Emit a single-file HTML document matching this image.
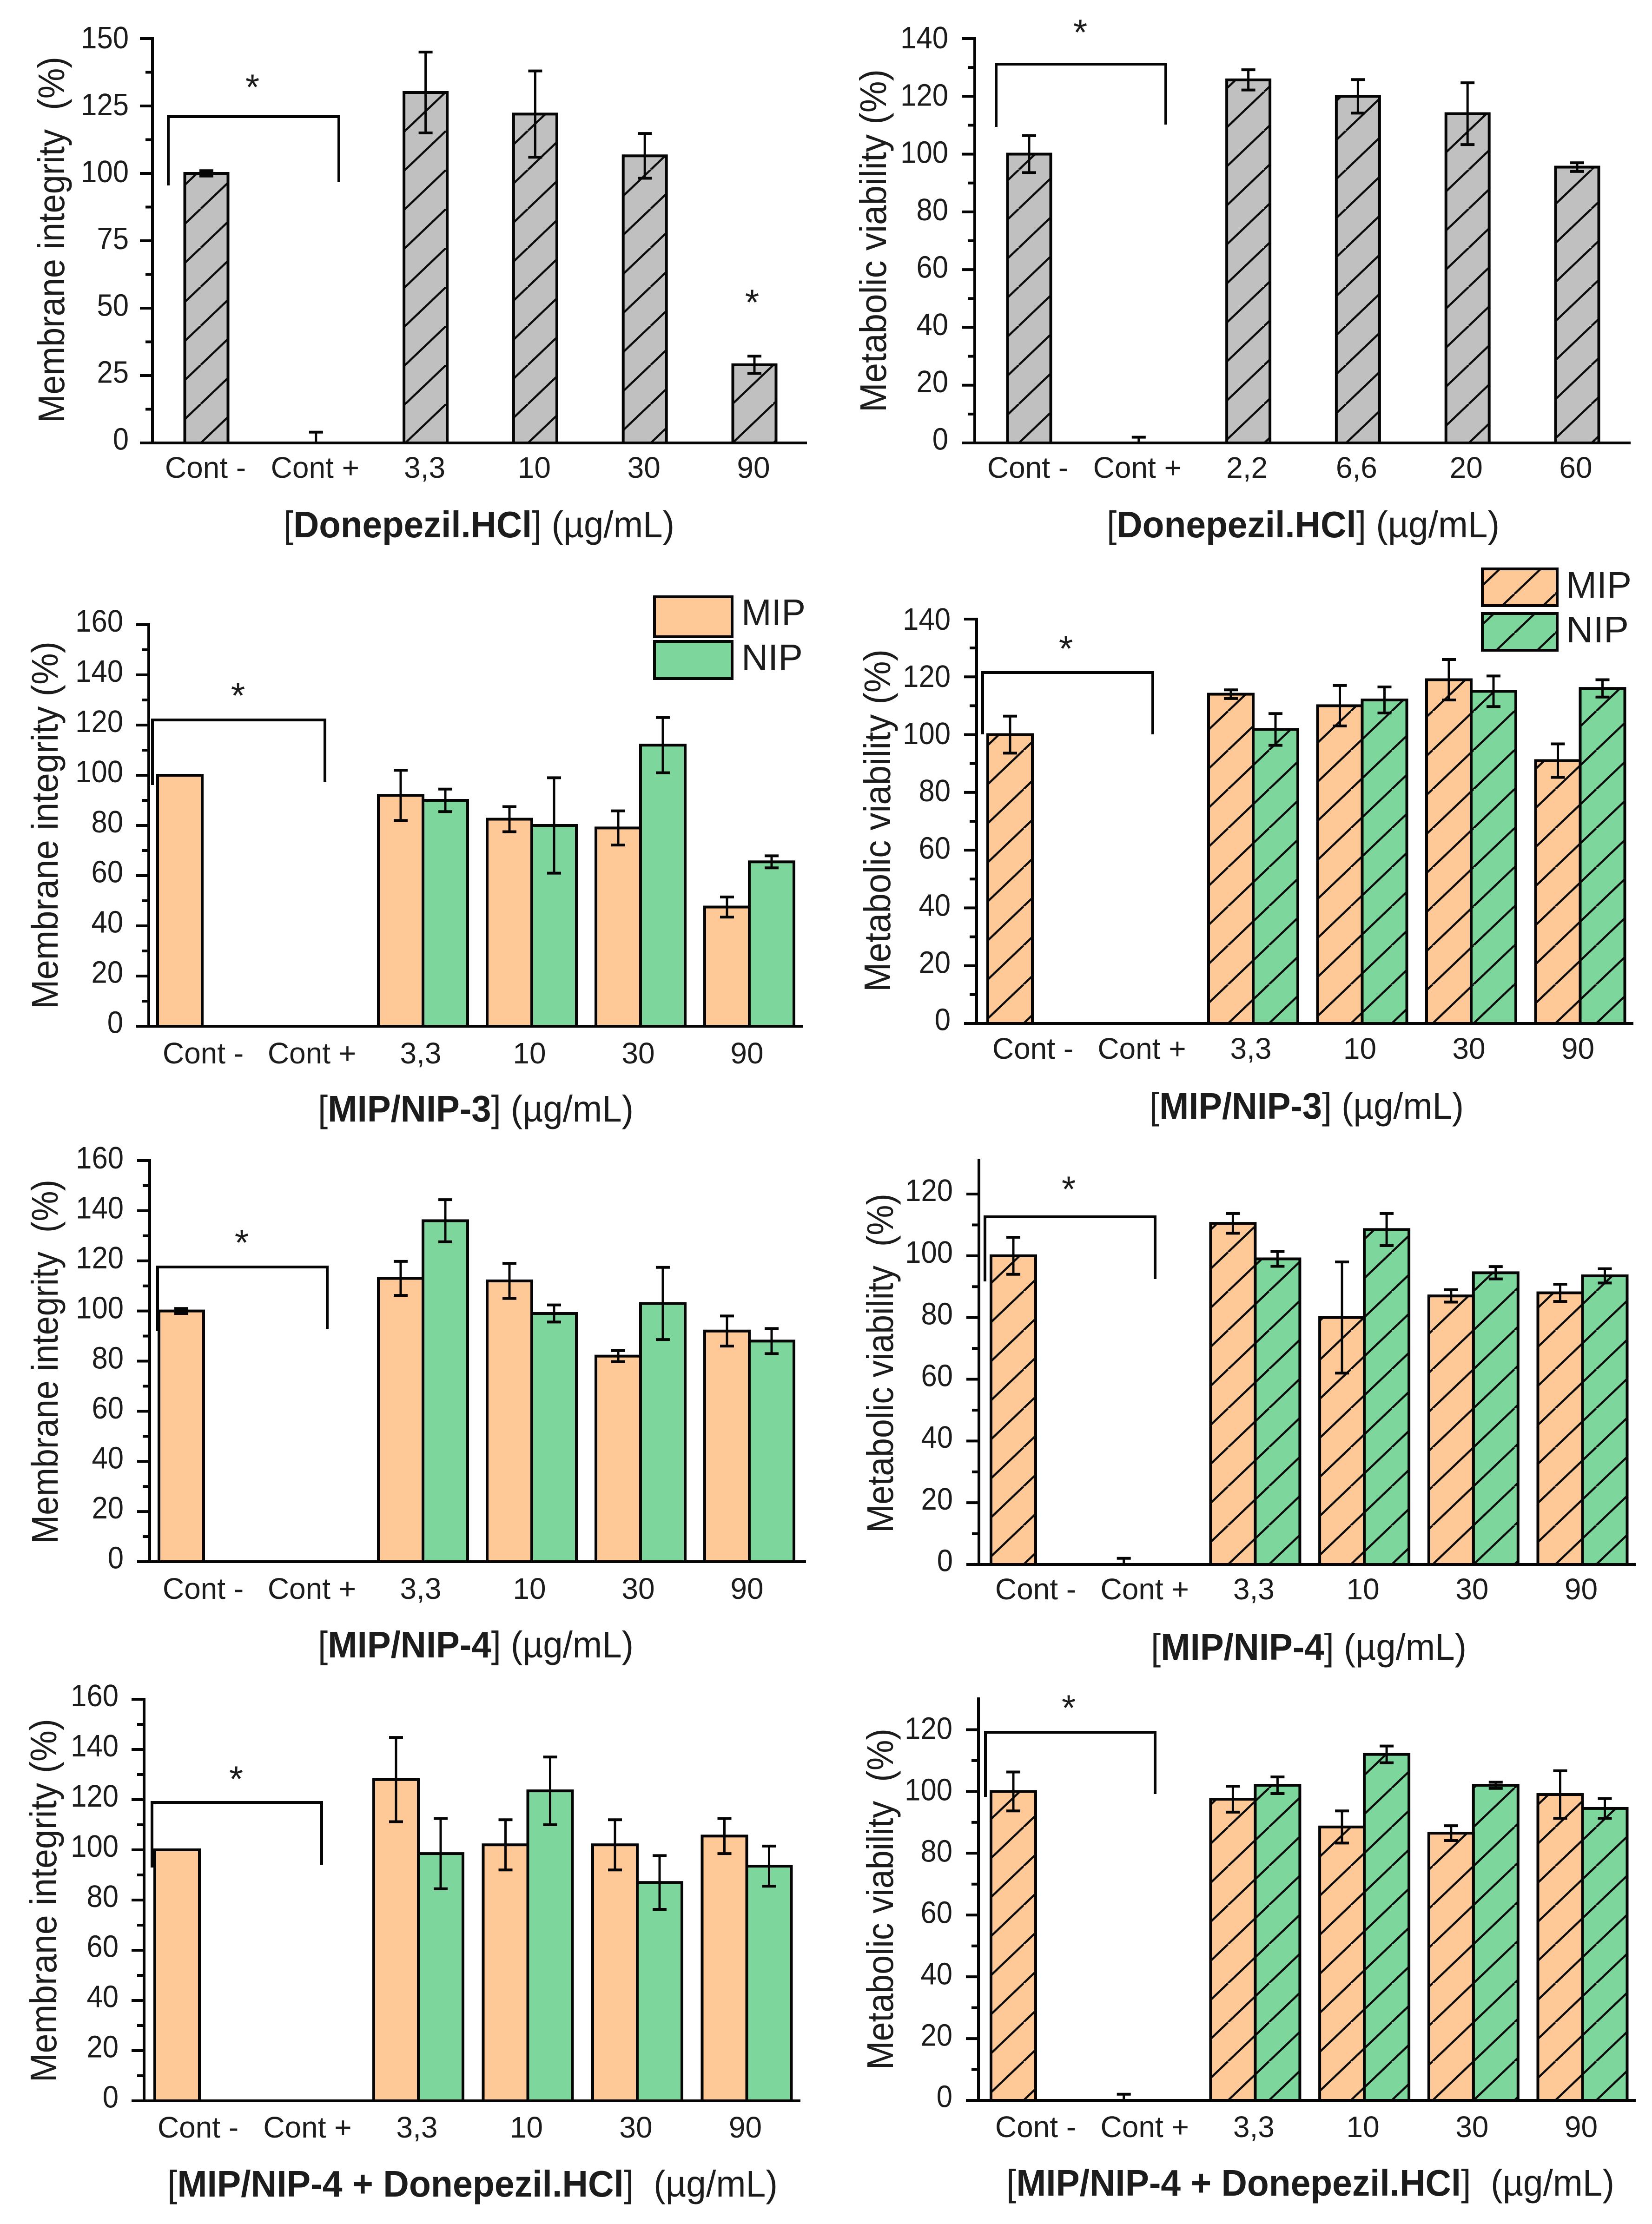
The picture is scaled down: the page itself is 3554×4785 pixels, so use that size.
<!DOCTYPE html>
<html lang="en">
<head>
<meta charset="utf-8">
<title>Membrane integrity and metabolic viability bar charts</title>
<style>
html,body{margin:0;padding:0;background:#fff;}
svg{display:block;}
text{font-family:"Liberation Sans",Arial,sans-serif;fill:#1c1c1c;white-space:pre;}
</style>
</head>
<body>
<svg id="figure" xmlns="http://www.w3.org/2000/svg" width="3554" height="4785" viewBox="0 0 3554 4785">
<rect x="0" y="0" width="3554" height="4785" fill="#ffffff"/>
</svg>
<script>
// ---------- chart data ----------
const categoriesA = ["Cont -", "Cont +", "3,3", "10", "30", "90"];
const categoriesB = ["Cont -", "Cont +", "2,2", "6,6", "20", "60"];
const categoriesMip = ["Cont -", "Cont +", "3,3", "10", "30", "90"];

const ticksA = [0, 25, 50, 75, 100, 125, 150];
const ticksB = [0, 20, 40, 60, 80, 100, 120, 140];
const ticksMembrane = [0, 20, 40, 60, 80, 100, 120, 140, 160];
const ticksViability = [0, 20, 40, 60, 80, 100, 120];

const valuesA = [100, 0, 130, 122, 106.5, 29];
const errorsA = [1, 4, 15, 16, 8.3, 3.2];

const valuesB = [100, 0, 125.7, 120, 114, 95.5];
const errorsB = [6.4, 2, 3.5, 5.8, 10.7, 1.5];

const mipC = [100, null, 92, 82.5, 79, 47.5];
const mipErrC = [0, null, 10, 5, 6.8, 4];
const nipC = [null, null, 90, 80, 112, 65.5];
const nipErrC = [null, null, 4.5, 19, 11, 2.4];

const mipD = [100, null, 114, 110, 119, 91];
const mipErrD = [6.4, null, 1.5, 7, 7, 5.8];
const nipD = [null, null, 101.8, 112, 115, 116];
const nipErrD = [null, null, 5.5, 4.5, 5.3, 3];

const mipE = [100, null, 113, 112, 82, 92];
const mipErrE = [1, null, 6.8, 7, 2.2, 6];
const nipE = [null, null, 136, 99, 103, 88];
const nipErrE = [null, null, 8.4, 3.4, 14.4, 5];

const mipF = [100, 0, 110.5, 80, 87, 88];
const mipErrF = [6, 2, 3.2, 18, 2, 2.8];
const nipF = [null, null, 99, 108.5, 94.5, 93.5];
const nipErrF = [null, null, 2.4, 5.2, 2, 2.3];

const mipG = [100, null, 128, 102, 102, 105.5];
const mipErrG = [0, null, 16.8, 10, 10, 7];
const nipG = [null, null, 98.5, 123.5, 87, 93.5];
const nipErrG = [null, null, 14, 13.5, 10.7, 8];

const mipH = [100, 0, 97.5, 88.5, 86.5, 99];
const mipErrH = [6.3, 2, 4.2, 5.2, 2.4, 7.7];
const nipH = [null, null, 102, 112, 102, 94.5];
const nipErrH = [null, null, 2.7, 2.7, 1, 3.2];

// ---------- layout (axis calibration only) ----------
const SVGNS = "http://www.w3.org/2000/svg";
const root = document.getElementById("figure");
const MIP = "#ffc897", NIP = "#7dd69b", GREY = "#c0c0c0", INK = "#050505";

const panels = [
 {id:"a", kind:"single", hatch:true, hx:432, cats:categoriesA, ticks:ticksA, v1:valuesA, e1:errorsA, ax:328, xEnd:1736, y0:953, yTop:83, yMax:150, x0:444, step:235.8, barW:93, firstShift:0, lblShift:-2, lblDy:75, tickDx:-51, tickDyTop:21,
  yTitle:"Membrane integrity  (%)", yT:{x:138,a:910,b:122}, xBold:"Donepezil.HCl", xSuffix:"] (µg/mL)", xT:{a:610,b:1451,y:1156},
  br:{l:362,r:729,y:251,lb:399,rb:392}, stars:[[543,178],[1618,641]]},
 {id:"b", kind:"single", hatch:true, hx:2192, cats:categoriesB, ticks:ticksB, v1:valuesB, e1:errorsB, ax:2097, xEnd:3508, y0:953, yTop:83, yMax:140, x0:2214, step:235.8, barW:93, firstShift:0, lblShift:-3, lblDy:75, tickDx:-57, tickDyTop:21,
  yTitle:"Metabolic viability (%)", yT:{x:1906,a:887,b:149}, xBold:"Donepezil.HCl", xSuffix:"] (µg/mL)", xT:{a:2381,b:3226,y:1156},
  br:{l:2143,r:2508,y:138,lb:273,rb:268}, stars:[[2324,60]]},
 {id:"c", kind:"dual", hatch:false, hx:0, cats:categoriesMip, ticks:ticksMembrane, v1:mipC, e1:mipErrC, v2:nipC, e2:nipErrC, ax:320, xEnd:1728, y0:2208, yTop:1344, yMax:160, x0:442, step:234, barW:96, firstShift:-7, lblShift:-5, lblDy:80, tickDx:-55, tickDyTop:15,
  yTitle:"Membrane integrity (%)", yT:{x:124,a:2171,b:1380}, xBold:"MIP/NIP-3", xSuffix:"] (µg/mL)", xT:{a:684,b:1363,y:2413},
  br:{l:328,r:699,y:1549,lb:1689,rb:1682}, stars:[[512,1487]],
  legend:{x:1408,w:167,y1:1284,h1:86,y2:1380,h2:80,tx:1595,tw:138,b1:1345,b2:1442}},
 {id:"d", kind:"dual", hatch:true, hx:2114, cats:categoriesMip, ticks:ticksB, v1:mipD, e1:mipErrD, v2:nipD, e2:nipErrD, ax:2101, xEnd:3514, y0:2202, yTop:1332, yMax:140, x0:2227, step:234.5, barW:96, firstShift:-6, lblShift:-5, lblDy:76, tickDx:-56, tickDyTop:23,
  yTitle:"Metabolic viability (%)", yT:{x:1915,a:2134,b:1397}, xBold:"MIP/NIP-3", xSuffix:"] (µg/mL)", xT:{a:2473,b:3149,y:2407},
  br:{l:2114,r:2480,y:1447,lb:1580,rb:1580}, stars:[[2293,1386]],
  legend:{x:3189,w:161,y1:1224,h1:79,y2:1320,h2:79,tx:3369,tw:141,b1:1286,b2:1382}},
 {id:"e", kind:"dual", hatch:false, hx:0, cats:categoriesMip, ticks:ticksMembrane, v1:mipE, e1:mipErrE, v2:nipE, e2:nipErrE, ax:322, xEnd:1734, y0:3360, yTop:2497, yMax:160, x0:442, step:234, barW:96, firstShift:-4, lblShift:-5, lblDy:80, tickDx:-56, tickDyTop:17,
  yTitle:"Membrane integrity  (%)", yT:{x:124,a:3321,b:2538}, xBold:"MIP/NIP-4", xSuffix:"] (µg/mL)", xT:{a:684,b:1363,y:3566},
  br:{l:339,r:704,y:2726,lb:2864,rb:2859}, stars:[[520,2664]]},
 {id:"f", kind:"dual", hatch:true, hx:2114, cats:categoriesMip, ticks:ticksViability, v1:mipF, e1:mipErrF, v2:nipF, e2:nipErrF, ax:2106, xEnd:3519, y0:3366, yTop:2496, yMax:131, x0:2231, step:234.7, barW:96, firstShift:-3, lblShift:-3, lblDy:75, tickDx:-56, tickDyTop:15,
  yTitle:"Metabolic viability  (%)", yT:{x:1921,a:3298,b:2568}, xBold:"MIP/NIP-4", xSuffix:"] (µg/mL)", xT:{a:2476,b:3155,y:3571},
  br:{l:2119,r:2485,y:2618,lb:2757,rb:2752}, stars:[[2299,2549]]},
 {id:"g", kind:"dual", hatch:false, hx:0, cats:categoriesMip, ticks:ticksMembrane, v1:mipG, e1:mipErrG, v2:nipG, e2:nipErrG, ax:310, xEnd:1722, y0:4520, yTop:3656, yMax:160, x0:429, step:235.5, barW:96, firstShift:0, lblShift:-3, lblDy:79, tickDx:-55, tickDyTop:15,
  yTitle:"Membrane integrity (%)", yT:{x:121,a:4480,b:3698}, xBold:"MIP/NIP-4 + Donepezil.HCl", xSuffix:"]  (µg/mL)", xT:{a:360,b:1673,y:4726},
  br:{l:327,r:692,y:3878,lb:4018,rb:4012}, stars:[[508,3818]]},
 {id:"h", kind:"dual", hatch:true, hx:2114, cats:categoriesMip, ticks:ticksViability, v1:mipH, e1:mipErrH, v2:nipH, e2:nipErrH, ax:2105, xEnd:3519, y0:4519, yTop:3655, yMax:130, x0:2231, step:234.7, barW:96, firstShift:-3, lblShift:-3, lblDy:79, tickDx:-56, tickDyTop:20,
  yTitle:"Metabolic viability  (%)", yT:{x:1921,a:4453,b:3719}, xBold:"MIP/NIP-4 + Donepezil.HCl", xSuffix:"]  (µg/mL)", xT:{a:2165,b:3473,y:4724},
  br:{l:2120,r:2485,y:3727,lb:3866,rb:3860}, stars:[[2299,3665]]}
];

// ---------- helpers ----------
function add(parent, tag, name, attrs) {
  const el = document.createElementNS(SVGNS, tag);
  
  
  for (const k in attrs) el.setAttribute(k, attrs[k]);
  parent.appendChild(el);
  return el;
}
function line(parent, name, x1, y1, x2, y2, w) {
  return add(parent, "line", name, {x1:x1, y1:y1, x2:x2, y2:y2, stroke:INK, "stroke-width":w});
}
function label(parent, name, str, x, y, size, opts) {
  opts = opts || {};
  const attrs = {"font-size":size, "text-anchor":opts.anchor || "start"};
  if (opts.sx) {
    attrs.transform = "translate(" + x + " " + y + ") scale(" + opts.sx + " 1)";
    attrs.x = 0; attrs.y = 0;
  } else { attrs.x = x; attrs.y = y; }
  if (opts.len) { attrs.textLength = opts.len; attrs.lengthAdjust = "spacingAndGlyphs"; }
  const el = add(parent, "text", name, attrs);
  el.textContent = str;
  return el;
}
function makeHatch(defs, id, color, ox, oy) {
  const W = 88, H = 84;
  const p = add(defs, "pattern", "hatch-pattern", {id:id, patternUnits:"userSpaceOnUse", x:ox, y:oy, width:W, height:H});
  add(p, "rect", "hatch-fill", {x:0, y:0, width:W, height:H, fill:color});
  [-W, 0, W].forEach(function (dx) {
    add(p, "line", "hatch-stroke", {x1:dx, y1:H, x2:dx + W, y2:0, stroke:"#0c0c0c", "stroke-width":4.5});
  });
}

// ---------- draw ----------
panels.forEach(function (P) {
  const g = add(root, "g", "chart-panel-" + P.id, {});
  const defs = add(g, "defs", "hatch-defs", {});
  const y = function (v) { return P.y0 - (v / P.yMax) * (P.y0 - P.yTop); };
  const x = function (i) { return P.x0 + i * P.step; };
  let fill1, fill2;
  if (P.hatch) {
    const c1 = P.kind === "single" ? GREY : MIP;
    makeHatch(defs, "h1" + P.id, c1, P.hx, P.y0);
    makeHatch(defs, "h2" + P.id, NIP, P.hx, P.y0);
    fill1 = "url(#h1" + P.id + ")";
    fill2 = "url(#h2" + P.id + ")";
  } else {
    fill1 = MIP;
    fill2 = NIP;
  }

  const drawBar = function (name, cx, w, v, fill) {
    add(g, "rect", name, {x:cx - w / 2, y:y(v), width:w, height:P.y0 - y(v), fill:fill, stroke:INK, "stroke-width":6});
  };
  const drawErr = function (name, cx, v, e) {
    if (!e) return;
    const top = y(v + e), low = v - e > 0 ? y(v - e) : P.y0;
    line(g, name + "-stem", cx, top, cx, low, 5);
    line(g, name + "-cap-top", cx - 15, top, cx + 15, top, 6);
    if (v - e > 0) line(g, name + "-cap-bottom", cx - 15, low, cx + 15, low, 6);
  };

  P.cats.forEach(function (cat, i) {
    const slug = String(cat).replace(/[^a-z0-9]+/gi, "-").toLowerCase();
    if (P.kind === "single") {
      if (P.v1[i] !== null) {
        if (P.v1[i] > 0) drawBar("bar-" + slug, x(i), P.barW, P.v1[i], fill1);
        drawErr("error-bar-" + slug, x(i), P.v1[i], P.e1[i]);
      }
    } else {
      const shift = i === 0 ? P.firstShift : 0;
      if (P.v2[i] !== null) drawBar("nip-bar-" + slug, x(i) + P.barW / 2, P.barW, P.v2[i], fill2);
      if (P.v1[i] !== null && P.v1[i] > 0) drawBar("mip-bar-" + slug, x(i) - P.barW / 2 + shift, P.barW, P.v1[i], fill1);
      if (P.v1[i] !== null) drawErr("mip-error-bar-" + slug, x(i) - P.barW / 2 + shift, P.v1[i], P.e1[i]);
      if (P.v2[i] !== null) drawErr("nip-error-bar-" + slug, x(i) + P.barW / 2, P.v2[i], P.e2[i]);
    }
    label(g, "x-tick-label-" + slug, cat, x(i) + P.lblShift, P.y0 + P.lblDy, 64, {anchor:"middle"});
  });

  // axes
  line(g, "y-axis", P.ax, P.yTop - 3, P.ax, P.y0 + 3, 6);
  line(g, "x-axis", P.ax - 27, P.y0, P.xEnd, P.y0, 6);
  const topTick = P.ticks[P.ticks.length - 1];
  P.ticks.forEach(function (t, i) {
    line(g, "y-tick-" + t, P.ax - 27, y(t), P.ax, y(t), 6);
    const dy = 14.5 + (P.tickDyTop - 14.5) * (t / topTick);
    label(g, "y-tick-label-" + t, String(t), P.ax + P.tickDx, y(t) + dy, 67, {anchor:"end", sx:0.92});
    if (i < P.ticks.length - 1) {
      const m = (t + P.ticks[i + 1]) / 2;
      line(g, "y-minor-tick", P.ax - 15, y(m), P.ax, y(m), 6);
    }
  });

  // axis titles
  const yLen = P.yT.a - P.yT.b;
  const yt = add(g, "text", "y-axis-title", {"font-size":80, transform:"translate(" + P.yT.x + " " + P.yT.a + ") rotate(-90)", textLength:yLen, lengthAdjust:"spacingAndGlyphs"});
  yt.textContent = P.yTitle;

  const xt = add(g, "text", "x-axis-title", {"font-size":80, x:P.xT.a, y:P.xT.y, textLength:P.xT.b - P.xT.a, lengthAdjust:"spacingAndGlyphs"});
  const t1 = add(xt, "tspan", "x-axis-title-open-bracket", {});
  t1.textContent = "[";
  const t2 = add(xt, "tspan", "x-axis-title-analyte", {"font-weight":"bold"});
  t2.textContent = P.xBold;
  const t3 = add(xt, "tspan", "x-axis-title-unit", {});
  t3.textContent = P.xSuffix;

  // significance bracket
  add(g, "polyline", "significance-bracket", {points:P.br.l + "," + P.br.lb + " " + P.br.l + "," + P.br.y + " " + P.br.r + "," + P.br.y + " " + P.br.r + "," + P.br.rb, fill:"none", stroke:INK, "stroke-width":6});
  P.stars.forEach(function (s) {
    label(g, "significance-star", "*", s[0], s[1] + 36, 78, {anchor:"middle"});
  });

  // legend
  if (P.legend) {
    const L = P.legend;
    add(g, "rect", "legend-swatch-mip", {x:L.x, y:L.y1, width:L.w, height:L.h1, fill:fill1, stroke:INK, "stroke-width":6});
    add(g, "rect", "legend-swatch-nip", {x:L.x, y:L.y2, width:L.w, height:L.h2, fill:fill2, stroke:INK, "stroke-width":6});
    label(g, "legend-label-mip", "MIP", L.tx, L.b1, 80, {len:L.tw});
    label(g, "legend-label-nip", "NIP", L.tx, L.b2, 80, {len:L.tw - 6});
  }
});
</script>
</body>
</html>
